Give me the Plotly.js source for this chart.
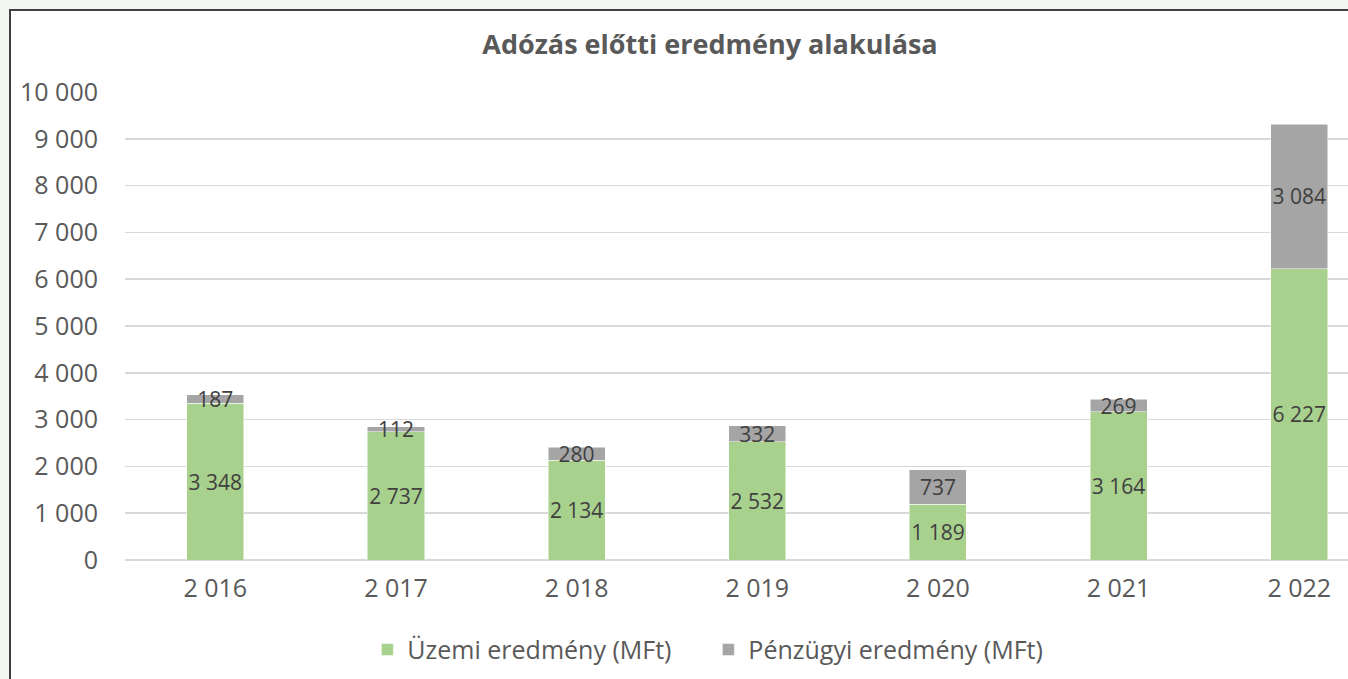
<!DOCTYPE html>
<html>
<head>
<meta charset="utf-8">
<script src="https://cdn.plot.ly/plotly-3.0.1.min.js"></script>
<style>
  html, body { margin: 0; padding: 0; width: 1348px; height: 679px; overflow: hidden; background: #f3f6f3; }
  #frame { position: absolute; left: 9px; top: 9px; width: 1350px; height: 680px; border-left: 2px solid #404040; border-top: 2px solid #404040; background: #ffffff; }
  #chart { position: absolute; left: 11px; top: 11px; width: 1337px; height: 668px; }
</style>
</head>
<body>
<div id="frame"></div>
<div id="chart"></div>
<script>
const years = ['2 016', '2 017', '2 018', '2 019', '2 020', '2 021', '2 022'];
const uzemi = [3348, 2737, 2134, 2532, 1189, 3164, 6227];
const penzugyi = [187, 112, 280, 332, 737, 269, 3084];
const seriesNames = ['Üzemi eredmény (MFt)', 'Pénzügyi eredmény (MFt)'];
const yTickVals = [0, 1000, 2000, 3000, 4000, 5000, 6000, 7000, 8000, 9000, 10000];
const yTickText = ['0', '1 000', '2 000', '3 000', '4 000', '5 000', '6 000', '7 000', '8 000', '9 000', '10 000'];

function fmt(v) {
  return String(v).replace(/\B(?=(\d{3})+(?!\d))/g, ' ');
}

const font = 'Open Sans, sans-serif';

const traces = [
  {
    type: 'bar', name: seriesNames[0], x: years, y: uzemi,
    marker: { color: '#a9d18e', line: { color: '#ffffff', width: 0.5 } },
    text: uzemi.map(fmt), textposition: 'inside', insidetextanchor: 'middle',
    constraintext: 'none', textangle: 0,
    textfont: { family: font, size: 21, color: '#404040' },
    hoverinfo: 'skip'
  },
  {
    type: 'bar', name: seriesNames[1], x: years, y: penzugyi,
    marker: { color: '#a5a5a5', line: { color: '#ffffff', width: 0.5 } },
    text: penzugyi.map(fmt), textposition: 'inside', insidetextanchor: 'middle',
    constraintext: 'none', textangle: 0,
    textfont: { family: font, size: 21, color: '#404040' },
    hoverinfo: 'skip'
  }
];

const layout = {
  width: 1337, height: 668,
  margin: { l: 114, r: 0, t: 81, b: 119 },
  paper_bgcolor: '#ffffff', plot_bgcolor: '#ffffff',
  barmode: 'stack', bargap: 0.684,
  font: { family: font, color: '#595959' },
  title: {
    text: '<b>Adózás előtti eredmény alakulása</b>',
    font: { family: font, size: 27, color: '#595959' },
    x: 0.5228, xref: 'container', xanchor: 'center',
    y: 1 - 34 / 668, yref: 'container', yanchor: 'middle'
  },
  xaxis: {
    type: 'category', range: [-0.5, 6.27],
    showgrid: false, zeroline: false, showline: false, ticks: '',
    tickfont: { family: font, size: 25, color: '#595959' },
    ticklabelstandoff: 11
  },
  yaxis: {
    range: [0, 10000], tickvals: yTickVals, ticktext: yTickText,
    showgrid: true, gridcolor: '#d9d9d9', gridwidth: 1.5,
    zeroline: true, zerolinecolor: '#d9d9d9', zerolinewidth: 1.5,
    showline: false, ticks: '',
    tickfont: { family: font, size: 25, color: '#595959' },
    ticklabelstandoff: 26
  },
  showlegend: true,
  legend: {
    orientation: 'h', x: 0.477, xanchor: 'center', y: -0.192, yanchor: 'middle',
    font: { family: font, size: 25, color: '#595959' },
    traceorder: 'normal', itemwidth: 30, entrywidth: 296, entrywidthmode: 'pixels'
  }
};

Plotly.newPlot('chart', traces, layout, { displayModeBar: false, staticPlot: true });
</script>
</body>
</html>
